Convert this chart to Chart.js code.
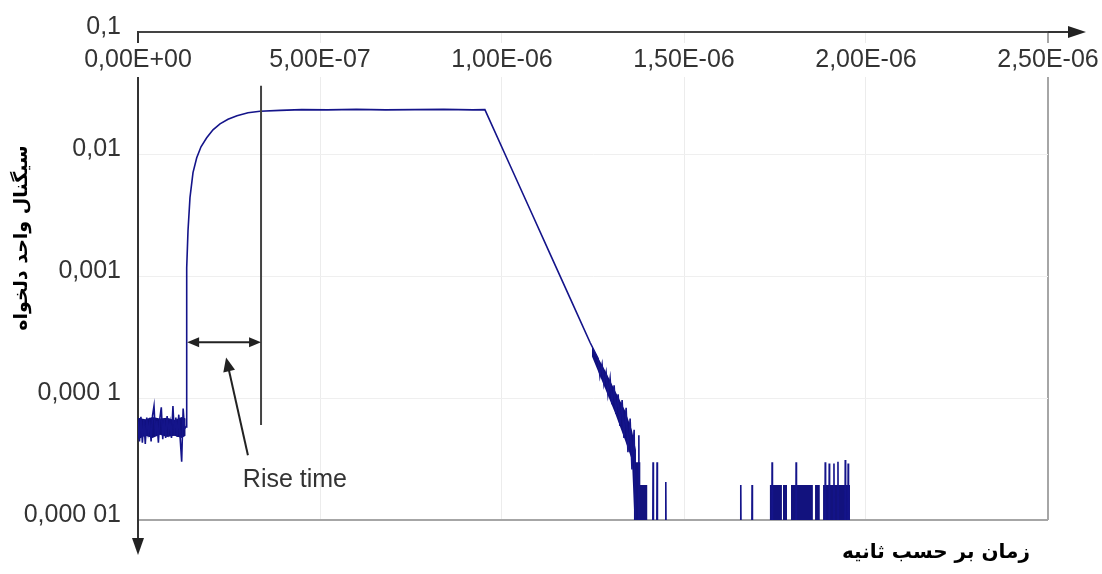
<!DOCTYPE html>
<html>
<head>
<meta charset="utf-8">
<title>Rise time</title>
<script src="https://cdn.jsdelivr.net/npm/chart.js@4.4.1/dist/chart.umd.min.js"></script>
<style>
html, body { margin: 0; padding: 0; background: #fff; }
#wrap { width: 1102px; height: 574px; position: relative; }
</style>
</head>
<body>
<div id="wrap"><canvas id="signalChart"></canvas></div>
<script>
// Axis ticks (x in seconds)
const xTickValues = [0, 5e-7, 1e-6, 1.5e-6, 2e-6, 2.5e-6];
const xTickLabels = ['0,00E+00', '5,00E-07', '1,00E-06', '1,50E-06', '2,00E-06', '2,50E-06'];
const yTickValues = [1e-5, 1e-4, 1e-3, 1e-2, 1e-1];
const yTickLabels = ['0,000 01', '0,000 1', '0,001', '0,01', '0,1'];

const xTitle = 'زمان بر حسب ثانیه';
const yTitle = 'سیگنال واحد دلخواه';

// Signal trace, times in ns. 5e-6 = below the plotted range (floor).
const baseTimes = [0, 4, 8, 12, 16, 20, 24, 28, 32, 36, 40, 44, 48, 52, 56, 60, 64,
  68, 72, 76, 80, 84, 88, 92, 96, 100, 104, 108, 112, 116, 120, 124, 128];
const baseSignal = [6.4e-5, 4.4e-5, 7.0e-5, 4.3e-5, 6.6e-5, 4.2e-5, 6.9e-5, 5.2e-5, 6.2e-5,
  4.4e-5, 7.2e-5, 8.6e-5, 4.9e-5, 6.5e-5, 4.3e-5, 6.8e-5, 8.4e-5, 4.6e-5, 6.7e-5, 4.7e-5,
  7.1e-5, 5.3e-5, 6.3e-5, 4.7e-5, 8.6e-5, 4.9e-5, 6.9e-5, 4.8e-5, 7.3e-5, 4.6e-5, 3.0e-5,
  8.2e-5, 5.6e-5];

const riseTimes = [132, 133, 134.6, 137.4, 142.8, 151.1, 161.3, 173.1, 188.7, 206, 225.3,
  247.3, 272, 302.2, 335.2, 390.1];
const riseSignal = [5.8e-5, 5.5e-4, 1.17e-3, 2.36e-3, 4.39e-3, 7.03e-3, 9.32e-3, 1.146e-2,
  1.358e-2, 1.578e-2, 1.768e-2, 1.924e-2, 2.056e-2, 2.175e-2, 2.238e-2, 2.28e-2];

const plateauTimes = [450, 520, 600, 680, 760, 840, 920, 953];
const plateauSignal = [0.0231, 0.0230, 0.0232, 0.0230, 0.0231, 0.0232, 0.0230, 0.0231];

const decayTimes = [1022, 1077, 1132, 1187, 1242, 1264, 1269, 1275, 1280, 1286, 1291, 1297,
  1302, 1308, 1313, 1319, 1324, 1330, 1335, 1341, 1346, 1352, 1357, 1363, 1368];
const decaySignal = [8.09e-3, 3.51e-3, 1.52e-3, 6.58e-4, 2.85e-4, 2.11e-4, 1.51e-4, 1.89e-4,
  1.30e-4, 1.62e-4, 1.07e-4, 1.45e-4, 8.9e-5, 1.27e-4, 7.4e-5, 1.07e-4, 5.9e-5, 9.6e-5,
  4.7e-5, 8.3e-5, 3.6e-5, 6.8e-5, 2.6e-5, 5.5e-5, 5e-6];

const tailTimes = [1370, 1375, 1376, 1377, 1414, 1415, 1416, 1425, 1426, 1427, 1449, 1450,
  1451, 1655, 1656, 1657, 1686, 1687, 1688, 1741, 1742, 1743, 1807, 1808, 1809, 1887, 1888,
  1889, 1898, 1899, 1900, 1911, 1912, 1913, 1922, 1923, 1924, 1942, 1943, 1944, 1950, 1951,
  1952, 2500];
const tailSignal = [5e-6, 5e-6, 4.96e-5, 5e-6, 5e-6, 2.98e-5, 5e-6, 5e-6, 2.98e-5, 5e-6,
  5e-6, 2.05e-5, 5e-6, 5e-6, 1.94e-5, 5e-6, 5e-6, 1.94e-5, 5e-6, 5e-6, 2.98e-5, 5e-6,
  5e-6, 2.98e-5, 5e-6, 5e-6, 2.98e-5, 5e-6, 5e-6, 2.9e-5, 5e-6, 5e-6, 2.9e-5, 5e-6,
  5e-6, 3.0e-5, 5e-6, 5e-6, 3.1e-5, 5e-6, 5e-6, 2.9e-5, 5e-6, 5e-6];

// Dense noise envelope (upper / lower edge), null splits baseline from decay
const bandTimes = [0, 20, 40, 60, 80, 100, 120, 131, null, 1247, 1283, 1310, 1338, 1357, 1368];
const bandUpper = [6.9e-5, 6.7e-5, 7.0e-5, 6.8e-5, 6.9e-5, 6.6e-5, 7.0e-5, 6.8e-5, null,
  2.65e-4, 1.69e-4, 1.16e-4, 7.9e-5, 5.45e-5, 3.74e-5];
const bandLower = [4.6e-5, 4.9e-5, 4.7e-5, 5.0e-5, 4.8e-5, 4.9e-5, 4.7e-5, 4.9e-5, null,
  2.2e-4, 1.2e-4, 7.6e-5, 4.5e-5, 3.1e-5, 5e-6];

// Noise bursts near the floor (step levels, value holds until next time)
const burstTimes = [1362, 1380, 1399, 1736, 1769, 1772, 1783, 1794, 1854, 1860, 1873, 1882, 1956];
const burstSignal = [2.98e-5, 1.94e-5, 5e-6, 1.94e-5, 5e-6, 1.94e-5, 5e-6, 1.94e-5, 5e-6,
  1.94e-5, 5e-6, 1.94e-5, 5e-6];

// Rise time markers (ns / signal units)
const riseStart = 135;
const riseEnd = 338;
const riseLineTop = 0.0362;
const riseLineBottom = 6.0e-5;
const riseArrowLevel = 2.86e-4;
const pointerFrom = [302, 3.4e-5];
const pointerTo = [242, 2.15e-4];
const riseLabel = 'Rise time';
const riseLabelAt = [288, 2.12e-5];

const TICK_FONT = '"Liberation Sans", Arial, sans-serif';
const NAVY = '#14148a';

function toPoints(times, values) {
  return times.map((t, i) => ({ x: t === null ? null : t * 1e-9, y: values[i] }));
}

function arrowHead(ctx, tipX, tipY, fromX, fromY, len, half) {
  const a = Math.atan2(tipY - fromY, tipX - fromX);
  const bx = tipX - len * Math.cos(a);
  const by = tipY - len * Math.sin(a);
  ctx.beginPath();
  ctx.moveTo(tipX, tipY);
  ctx.lineTo(bx + half * Math.sin(a), by - half * Math.cos(a));
  ctx.lineTo(bx - half * Math.sin(a), by + half * Math.cos(a));
  ctx.closePath();
  ctx.fill();
}

const overlayPlugin = {
  id: 'overlay',
  afterDraw(chart) {
    const { ctx, chartArea: area, scales: { x, y } } = chart;
    const px = (ns) => x.getPixelForValue(ns * 1e-9);
    const py = (v) => y.getPixelForValue(v);

    ctx.save();
    ctx.strokeStyle = '#333';
    ctx.fillStyle = '#222';
    ctx.lineWidth = 2;

    // Axis arrows
    ctx.beginPath();
    ctx.moveTo(area.right, area.top);
    ctx.lineTo(area.right + 22, area.top);
    ctx.stroke();
    arrowHead(ctx, area.right + 38, area.top, area.right, area.top, 18, 6);
    ctx.beginPath();
    ctx.moveTo(area.left, area.bottom);
    ctx.lineTo(area.left, area.bottom + 20);
    ctx.stroke();
    arrowHead(ctx, area.left, area.bottom + 35, area.left, area.bottom, 17, 6);

    // Rise time markers
    ctx.strokeStyle = '#444';
    ctx.beginPath();
    ctx.moveTo(px(riseEnd), py(riseLineTop));
    ctx.lineTo(px(riseEnd), py(riseLineBottom));
    ctx.stroke();

    const ay = py(riseArrowLevel);
    const ax1 = px(riseStart);
    const ax2 = px(riseEnd);
    ctx.strokeStyle = '#222';
    ctx.beginPath();
    ctx.moveTo(ax1 + 4, ay);
    ctx.lineTo(ax2 - 4, ay);
    ctx.stroke();
    arrowHead(ctx, ax1, ay, ax2, ay, 12, 5);
    arrowHead(ctx, ax2, ay, ax1, ay, 12, 5);

    const fx = px(pointerFrom[0]), fy = py(pointerFrom[1]);
    const tx = px(pointerTo[0]), ty = py(pointerTo[1]);
    ctx.beginPath();
    ctx.moveTo(fx, fy);
    ctx.lineTo(tx + (fx - tx) * 0.1, ty + (fy - ty) * 0.1);
    ctx.stroke();
    arrowHead(ctx, tx, ty, fx, fy, 14, 6);

    ctx.fillStyle = '#333';
    ctx.font = '25px ' + TICK_FONT;
    ctx.textAlign = 'left';
    ctx.textBaseline = 'middle';
    ctx.fillText(riseLabel, px(riseLabelAt[0]), py(riseLabelAt[1]));

    // X tick labels sit inside the plot, just under the top axis
    ctx.textAlign = 'center';
    xTickValues.forEach((v, i) => {
      const cx = x.getPixelForValue(v);
      const w = ctx.measureText(xTickLabels[i]).width;
      ctx.fillStyle = '#fff';
      ctx.fillRect(cx - w / 2 - 3, area.top + 11, w + 6, 34);
      ctx.fillStyle = '#333';
      ctx.fillText(xTickLabels[i], cx, area.top + 28);
    });

    // Axis titles
    ctx.fillStyle = '#000';
    ctx.font = 'bold 20px "DejaVu Sans", sans-serif';
    ctx.textAlign = 'right';
    ctx.fillText(xTitle, 1030, 553);

    ctx.translate(22, 238);
    ctx.rotate(-Math.PI / 2);
    ctx.textAlign = 'center';
    ctx.font = 'bold 19px "DejaVu Sans", sans-serif';
    ctx.fillText(yTitle, 0, 0);
    ctx.restore();
  }
};

function initSignalChart() {
  const canvas = document.getElementById('signalChart');
  const trace = [
    ...toPoints(baseTimes, baseSignal),
    ...toPoints(riseTimes, riseSignal),
    ...toPoints(plateauTimes, plateauSignal),
    ...toPoints(decayTimes, decaySignal),
    ...toPoints(tailTimes, tailSignal)
  ];

  new Chart(canvas, {
    type: 'line',
    data: {
      datasets: [{
        label: 'signal',
        data: trace,
        borderColor: NAVY,
        borderWidth: 1.6,
        pointRadius: 0,
        tension: 0,
        fill: false
      }, {
        label: 'noise upper',
        data: toPoints(bandTimes, bandUpper),
        borderWidth: 0,
        borderColor: 'rgba(0,0,0,0)',
        backgroundColor: '#10107e',
        pointRadius: 0,
        spanGaps: false,
        fill: '+1'
      }, {
        label: 'noise lower',
        data: toPoints(bandTimes, bandLower),
        borderWidth: 0,
        borderColor: 'rgba(0,0,0,0)',
        pointRadius: 0,
        spanGaps: false,
        fill: false
      }, {
        label: 'bursts',
        data: toPoints(burstTimes, burstSignal),
        stepped: 'before',
        borderWidth: 0,
        borderColor: 'rgba(0,0,0,0)',
        backgroundColor: '#12127e',
        pointRadius: 0,
        fill: 'start'
      }]
    },
    options: {
      responsive: true,
      maintainAspectRatio: false,
      animation: false,
      events: [],
      layout: { padding: { left: 0, right: 54, top: 0, bottom: 54 } },
      plugins: {
        legend: { display: false },
        tooltip: { enabled: false }
      },
      scales: {
        x: {
          type: 'linear',
          position: 'top',
          min: 0,
          max: 2.5e-6,
          afterBuildTicks: (s) => { s.ticks = xTickValues.map((v) => ({ value: v })); },
          afterFit: (s) => { s.height = 32; },
          ticks: { display: false },
          grid: {
            drawTicks: false,
            color: (c) => {
              if (!c.tick) return '#ececec';
              if (c.tick.value === 0) return 'rgba(0,0,0,0)';
              return c.tick.value === 2.5e-6 ? '#a6a6a6' : '#ececec';
            },
            lineWidth: (c) => (c.tick && c.tick.value === 2.5e-6 ? 2 : 1)
          },
          border: { display: true, color: '#444', width: 2 }
        },
        y: {
          type: 'logarithmic',
          position: 'left',
          min: 1e-5,
          max: 0.1,
          afterBuildTicks: (s) => { s.ticks = yTickValues.map((v) => ({ value: v })); },
          afterFit: (s) => { s.width = 138; },
          ticks: {
            autoSkip: false,
            padding: 17,
            labelOffset: -5,
            color: '#333',
            font: { family: 'Liberation Sans', size: 25 },
            callback: (v, i) => yTickLabels[i]
          },
          grid: {
            drawTicks: false,
            color: (c) => {
              if (!c.tick) return '#efefef';
              if (c.tick.value === 0.1) return 'rgba(0,0,0,0)';
              return c.tick.value === 1e-5 ? '#a6a6a6' : '#efefef';
            },
            lineWidth: (c) => (c.tick && c.tick.value === 1e-5 ? 2 : 1)
          },
          border: { display: true, color: '#333', width: 2 }
        }
      }
    },
    plugins: [overlayPlugin]
  });
}

document.addEventListener('DOMContentLoaded', initSignalChart);
</script>
</body>
</html>
